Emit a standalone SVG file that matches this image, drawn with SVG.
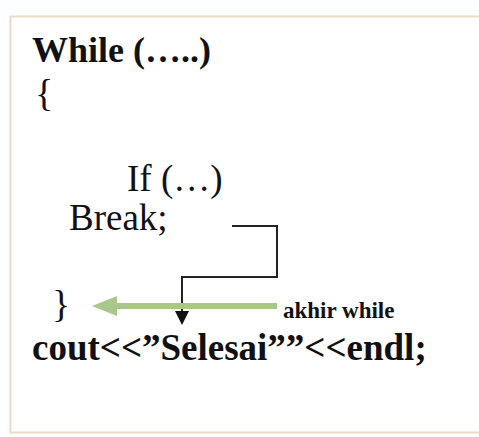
<svg xmlns="http://www.w3.org/2000/svg" width="479" height="437" viewBox="0 0 479 437">
  <style>
    .code { font-family: "Liberation Serif", "Times New Roman", serif; fill: #111; }
    .bold { font-weight: bold; }
    .flow { fill: none; stroke: #222; stroke-width: 2; }
  </style>
  <defs>
    <marker id="blackHead" markerWidth="8" markerHeight="8" refX="7" refY="4" orient="auto" markerUnits="userSpaceOnUse" viewBox="0 0 8 8">
      <path d="M0,0 L8,4 L0,8 Z" fill="#111"/>
    </marker>
  </defs>
  <rect x="0" y="0" width="479" height="437" fill="#fdfeff"/>
  <!-- panel -->
  <rect id="panel" x="10.5" y="16.5" width="475" height="416" fill="#ffffff" stroke="#ecdcc6" stroke-width="2"/>

  <g id="while-line">
    <text class="code bold" x="32" y="62" font-size="36">While (…..)</text>
  </g>
  <g id="open-brace">
    <text class="code" x="35" y="106" font-size="38">{</text>
  </g>
  <g id="if-line">
    <text class="code" x="127" y="191" font-size="37">If (…)</text>
  </g>
  <g id="break-line">
    <text class="code" x="69" y="230" font-size="37">Break;</text>
  </g>
  <g id="close-brace">
    <text class="code" x="52" y="317" font-size="38">}</text>
  </g>
  <g id="cout-line">
    <text class="code bold" x="32" y="360" font-size="37">cout&lt;&lt;”Selesai””&lt;&lt;endl;</text>
  </g>
  <g id="label-akhir">
    <text class="code bold" x="283" y="318" font-size="23">akhir while</text>
  </g>

  <g id="connectors">
    <!-- break jumps out of the loop -->
    <polyline class="flow" points="232,226 277,226 277,277 182,277 182,312"/>
    <polygon points="175,311 189,311 182,325" fill="#111"/>
    <!-- end-of-loop pointer -->
    <line x1="277" y1="306" x2="114" y2="306" stroke="#a9c68b" stroke-width="6"/>
    <polygon points="92,306 117,296 117,316" fill="#a9c68b"/>
  </g>
</svg>
